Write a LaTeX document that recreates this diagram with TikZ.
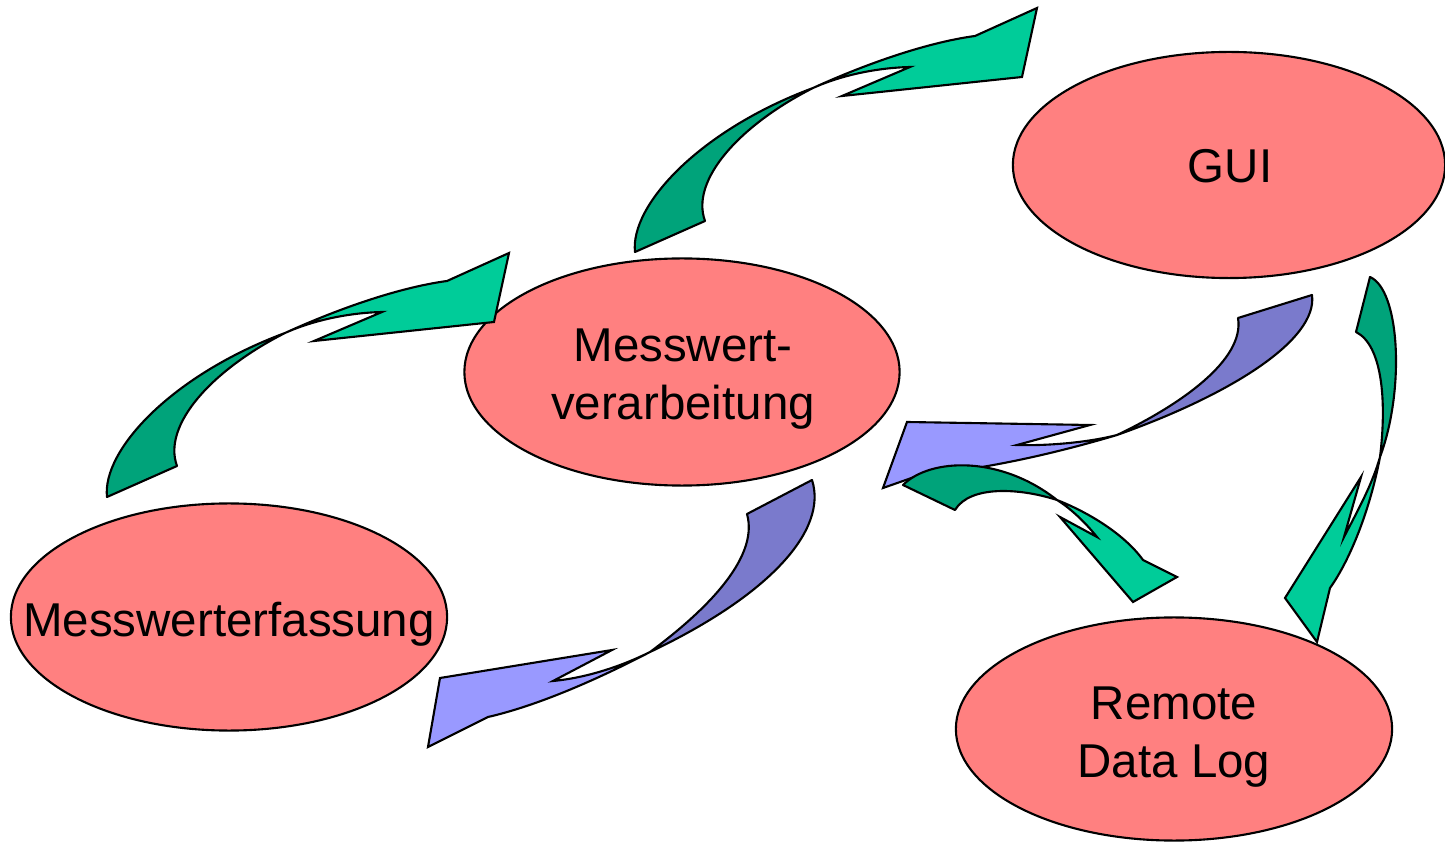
\documentclass[tikz,border=0pt]{standalone}
\usepackage{fontspec}
\setmainfont{Liberation Sans}
\usetikzlibrary{shapes.geometric}
\definecolor{blobpink}{RGB}{255,128,128}
\definecolor{greenfront}{RGB}{0,204,153}
\definecolor{greenback}{RGB}{0,163,122}
\definecolor{bluefront}{RGB}{153,153,255}
\definecolor{blueback}{RGB}{122,122,204}

\begin{document}
\begin{tikzpicture}[x=0.01cm,y=-0.01cm,
        font=\fontsize{13.5}{16.3}\selectfont,
        blob/.style={draw,line width=0.6pt,fill=blobpink,ellipse,inner sep=0pt},
        txt/.style={align=center,inner sep=0pt},
        gback/.style={draw,line width=0.6pt,fill=greenback,line join=round},
        gfront/.style={draw,line width=0.6pt,fill=greenfront,line join=miter},
        bback/.style={draw,line width=0.6pt,fill=blueback,line join=round},
        bfront/.style={draw,line width=0.6pt,fill=bluefront,line join=miter}]
                \useasboundingbox (0,0) rectangle (1445,843);
                \node [blob,minimum width=4.32cm,minimum height=2.26cm] (gui) at (1229,165) {};
                \node [blob,minimum width=4.35cm,minimum height=2.27cm] (verarb) at (682,372) {};
                \node [blob,minimum width=4.36cm,minimum height=2.27cm] (erfass) at (229,617) {};
                \node [blob,minimum width=4.36cm,minimum height=2.23cm] (remote) at (1174,729) {};
                \node [txt] (guitxt) at (1230,166) {GUI};
                \node [txt] (verarbtxt) at (683,379) {Messwert-\\verarbeitung};
                \node [txt] (erfasstxt) at (229,624) {Messwerterfassung};
                \node [txt] (remotetxt) at (1174,737) {Remote\\Data Log};
                \draw [gback] (635,252) .. controls (630,205) and (700,130) .. (813,88)
                    .. controls (740,125) and (690,180) .. (705,221) -- cycle;
                \draw [gfront] (813,88) .. controls (870,62) and (930,42) .. (975,36)
                    -- (1037,8) -- (1022,77) -- (842,96) -- (910,67)
                    .. controls (870,68) and (835,78) .. (813,88) -- cycle;
                \begin{scope}[shift={(-528,245)}]
                    \draw [gback] (635,252) .. controls (630,205) and (700,130) .. (813,88)
                        .. controls (740,125) and (690,180) .. (705,221) -- cycle;
                    \draw [gfront] (813,88) .. controls (870,62) and (930,42) .. (975,36)
                        -- (1037,8) -- (1022,77) -- (842,96) -- (910,67)
                        .. controls (870,68) and (835,78) .. (813,88) -- cycle;
                \end{scope}
                \draw [bback] (812,480) .. controls (828,530) and (770,595) .. (650,652)
                    .. controls (700,615) and (760,560) .. (747,514) -- cycle;
                \draw [bfront] (650,652) .. controls (600,678) and (540,705) .. (488,717)
                    -- (428,747) -- (440,678) -- (612,650) -- (553,681)
                    .. controls (585,678) and (620,667) .. (650,652) -- cycle;
                \draw [bback] (1312,295) .. controls (1318,340) and (1230,395) .. (1117,435)
                    .. controls (1180,405) and (1245,360) .. (1238,318) -- cycle;
                \draw [bfront] (1117,435) .. controls (1050,455) and (980,470) .. (920,475)
                    -- (883,488) -- (907,422) -- (1090,425) -- (1017,445)
                    .. controls (1050,446) and (1090,442) .. (1117,435) -- cycle;
                \draw [gback] (903,485) .. controls (930,458) and (1000,455) .. (1057,500)
                    .. controls (1020,488) and (970,485) .. (955,510) -- cycle;
                \draw [gfront] (1057,500) .. controls (1090,513) and (1125,535) .. (1143,560)
                    -- (1177,577) -- (1133,602) -- (1060,517) -- (1097,537)
                    .. controls (1085,522) and (1070,508) .. (1057,500) -- cycle;
                \draw [gback] (1370,277) .. controls (1400,290) and (1405,390) .. (1380,457)
                    .. controls (1387,400) and (1382,345) .. (1356,332) -- cycle;
                \draw [gfront] (1380,457) .. controls (1370,510) and (1350,560) .. (1330,588)
                    -- (1317,642) -- (1285,598) -- (1361,477) -- (1344,537)
                    .. controls (1358,510) and (1372,485) .. (1380,457) -- cycle;
\end{tikzpicture}
\end{document}
